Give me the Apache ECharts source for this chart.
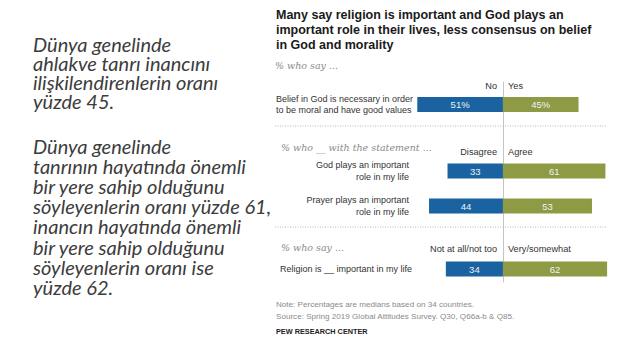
<!DOCTYPE html>
<html>
<head>
<meta charset="utf-8">
<script src="https://cdn.jsdelivr.net/npm/echarts@6/dist/echarts.min.js"></script>
<style>
html,body{margin:0;padding:0;background:#fff;}
#chart{width:620px;height:344px;}
</style>
</head>
<body>
<div id="chart"></div>
<script>
// ---- data ----
const rowLabels = [
  'Belief in God is necessary in order\nto be moral and have good values',
  'God plays an important\nrole in my life',
  'Prayer plays an important\nrole in my life',
  'Religion is __ important in my life'
];
const negValues = [51, 33, 44, 34];
const posValues = [45, 61, 53, 62];
const valueSuffix = ['%', '', '', ''];
const negHeaders = ['No', 'Disagree', 'Not at all/not too'];
const posHeaders = ['Yes', 'Agree', 'Very/somewhat'];
const sectionNotes = ['% who say ...', '% who __ with the statement ...', '% who say ...'];
const sectionRows = [[0], [1, 2], [3]];
const titleText = 'Many say religion is important and God plays an\nimportant role in their lives, less consensus on belief\nin God and morality';
const noteLines = [
  'Note: Percentages are medians based on 34 countries.',
  'Source: Spring 2019 Global Attitudes Survey. Q30, Q66a-b & Q85.'
];
const creditText = 'PEW RESEARCH CENTER';
const leftPara1 = 'Dünya genelinde\nahlakve tanrı inancını\nilişkilendirenlerin oranı\nyüzde 45.';
const leftPara2 = 'Dünya genelinde\ntanrının hayatında önemli\nbir yere sahip olduğunu\nsöyleyenlerin oranı yüzde 61,\ninancın hayatında önemli\nbir yere sahip olduğunu\nsöyleyenlerin oranı ise\nyüzde 62.';

// ---- layout ----
const X_MIN = -52, X_MAX = 62;
const PLOT_LEFT = 415.6, PLOT_WIDTH = 191.5;
const BLUE = '#1b63a0', GREEN = '#8f9a45';
const SANS = '"Liberation Sans", Arial, sans-serif';
const SERIF = '"DejaVu Serif", "Liberation Serif", serif';
const LEFT_FONT = 'Lato, "Open Sans", sans-serif';

const gridLayouts = [
  {top: 94.5, height: 20, labelAlign: 'left', labelMargin: PLOT_LEFT - 276},
  {top: 153.5, height: 70, labelAlign: 'right', labelMargin: PLOT_LEFT - 409},
  {top: 259, height: 20, labelAlign: 'left', labelMargin: PLOT_LEFT - 280}
];
const headerY = [86, 152, 249];
const noteY = [65, 147, 247];
const noteX = [275, 281, 281];
const dividerY = [126, 227];

const grids = [], xAxes = [], yAxes = [], series = [];
sectionRows.forEach((rows, s) => {
  const g = gridLayouts[s];
  grids.push({left: PLOT_LEFT, width: PLOT_WIDTH, top: g.top, height: g.height});
  xAxes.push({gridIndex: s, type: 'value', min: X_MIN, max: X_MAX, show: false});
  yAxes.push({
    gridIndex: s, type: 'category', inverse: true,
    data: rows.map(r => rowLabels[r]),
    axisLine: {show: false}, axisTick: {show: false},
    axisLabel: {
      align: g.labelAlign, margin: g.labelMargin,
      fontFamily: SANS, fontSize: 9, lineHeight: 11.5, color: '#333'
    }
  });
  const mk = (vals, sign, color) => ({
    type: 'bar', xAxisIndex: s, yAxisIndex: s,
    barWidth: 15, barGap: '-100%',
    itemStyle: {color: color},
    data: rows.map(r => ({value: sign * vals[r], suffix: valueSuffix[r]})),
    label: {
      show: true, position: 'inside', color: '#eef2f5',
      fontFamily: SANS, fontSize: 9.5,
      formatter: p => Math.abs(p.value) + p.data.suffix
    },
    silent: true, animation: false
  });
  series.push(mk(negValues, -1, BLUE));
  series.push(mk(posValues, 1, GREEN));
});
// center zero line grid
grids.push({left: PLOT_LEFT, width: PLOT_WIDTH, top: 82, height: 200});
xAxes.push({gridIndex: 3, type: 'value', min: X_MIN, max: X_MAX, show: false});
yAxes.push({
  gridIndex: 3, type: 'value', min: 0, max: 1,
  axisLine: {show: true, onZero: true, lineStyle: {color: '#c4c4c4', width: 1}},
  axisTick: {show: false}, axisLabel: {show: false}, splitLine: {show: false}
});

const graphics = [];
const txt = (x, y, text, style) => graphics.push({
  type: 'text', x: x, y: y, silent: true,
  style: Object.assign({text: text, verticalAlign: 'middle'}, style)
});
negHeaders.forEach((h, i) => txt(497, headerY[i], h, {align: 'right', fontFamily: SANS, fontSize: 9.2, fill: '#333'}));
posHeaders.forEach((h, i) => txt(508, headerY[i], h, {align: 'left', fontFamily: SANS, fontSize: 9.2, fill: '#333'}));
sectionNotes.forEach((n, i) => txt(noteX[i], noteY[i], n, {align: 'left', fontFamily: SERIF, fontStyle: 'italic', fontSize: 9.5, fill: '#8a8a8a'}));
dividerY.forEach(y => graphics.push({
  type: 'line', silent: true,
  shape: {x1: 275, y1: y, x2: 607, y2: y},
  style: {stroke: '#b8b8b8', lineWidth: 1, lineDash: [1, 1.5]}
}));
noteLines.forEach((n, i) => txt(276, 304 + i * 12, n, {align: 'left', fontFamily: SANS, fontSize: 8.1, fill: '#8a8a8a'}));
txt(276, 331, creditText, {align: 'left', fontFamily: SANS, fontSize: 7.3, fontWeight: 'bold', fill: '#222'});
graphics.push({type: 'text', x: 33, y: 34, silent: true,
  style: {text: leftPara1, fontFamily: LEFT_FONT, fontStyle: 'italic', fontSize: 20, lineHeight: 19.2, fill: '#3c3c3c', verticalAlign: 'top'}});
graphics.push({type: 'text', x: 33, y: 136, silent: true,
  style: {text: leftPara2, fontFamily: LEFT_FONT, fontStyle: 'italic', fontSize: 20, lineHeight: 20.1, fill: '#3c3c3c', verticalAlign: 'top'}});

const chart = echarts.init(document.getElementById('chart'), null, {renderer: 'svg'});
chart.setOption({
  animation: false,
  backgroundColor: '#fff',
  title: {
    text: titleText, left: 276, top: 7.5, padding: 0,
    textStyle: {fontFamily: SANS, fontSize: 12.5, fontWeight: 'bold', lineHeight: 15, color: '#1a1a1a'}
  },
  grid: grids, xAxis: xAxes, yAxis: yAxes, series: series, graphic: graphics
});
</script>
</body>
</html>
